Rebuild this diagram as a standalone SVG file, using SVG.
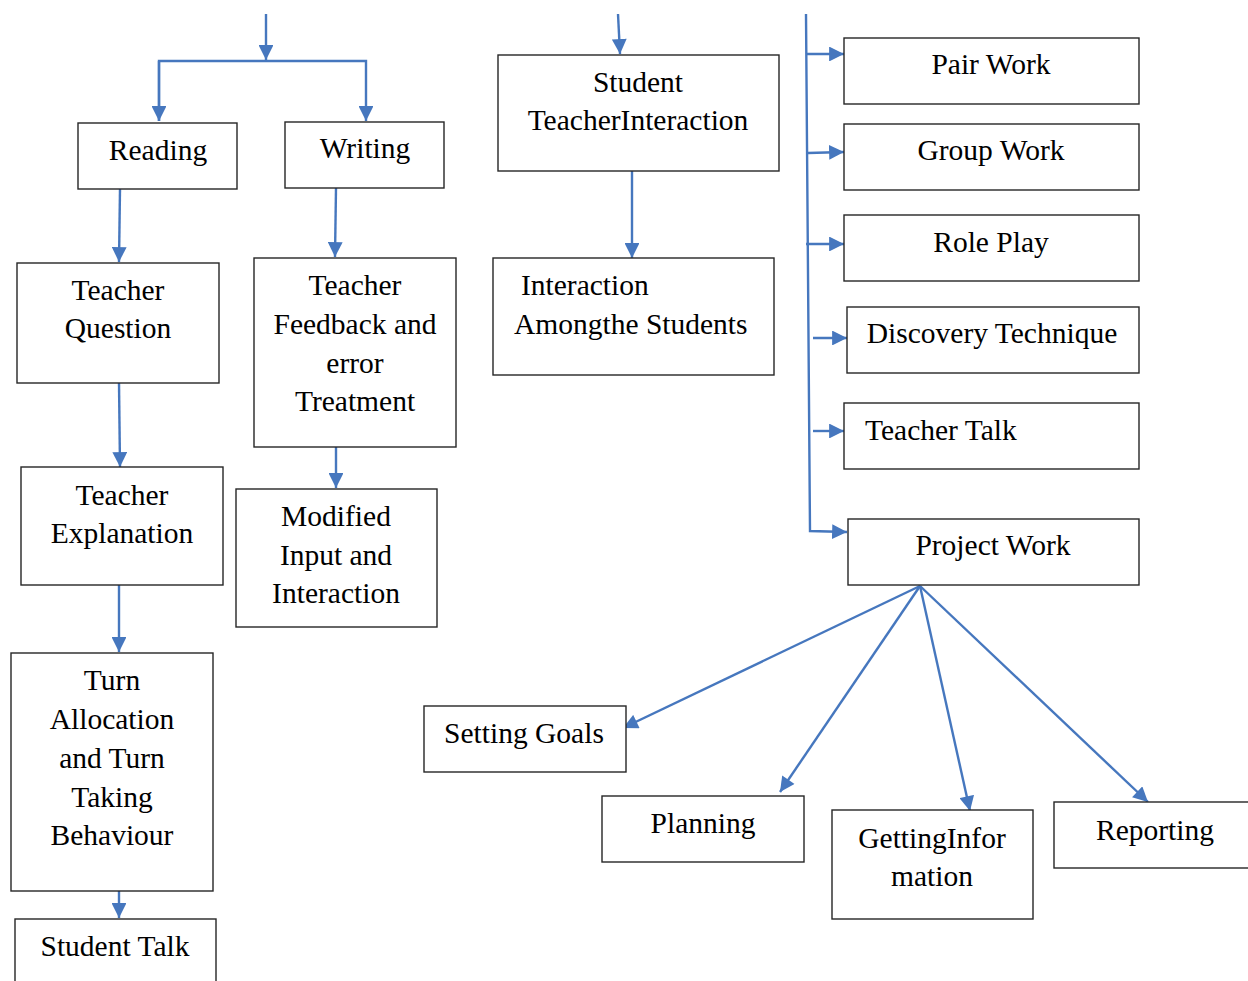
<svg xmlns="http://www.w3.org/2000/svg" width="1248" height="981" viewBox="0 0 1248 981">
<style>
.box{fill:#fff;stroke:#262626;stroke-width:1.4}
text{font-family:"Liberation Serif","Times New Roman",serif;font-size:29.5px;fill:#000}
.c{text-anchor:middle}
.con line,.con path{stroke:#4677BE;stroke-width:2.4;fill:none}
</style>
<defs>
<marker id="ah" viewBox="0 0 10 10" refX="10" refY="5" markerWidth="6.5" markerHeight="6.2" markerUnits="strokeWidth" orient="auto">
<path d="M0,0 L10,5 L0,10 z" fill="#4677BE"/>
</marker>
</defs>
<rect width="1248" height="981" fill="#fff"/>
<g class="con">
<line x1="266" y1="14" x2="266" y2="60" marker-end="url(#ah)"/>
<path d="M159,121 L159,61 L366,61 L366,121" marker-end="url(#ah)"/>
<line x1="159" y1="61" x2="159" y2="121" marker-end="url(#ah)"/>
<line x1="120" y1="189" x2="119" y2="262" marker-end="url(#ah)"/>
<line x1="119" y1="383" x2="120" y2="467" marker-end="url(#ah)"/>
<line x1="119" y1="585" x2="119" y2="652" marker-end="url(#ah)"/>
<line x1="119" y1="891" x2="119" y2="918" marker-end="url(#ah)"/>
<line x1="336" y1="188" x2="335" y2="257" marker-end="url(#ah)"/>
<line x1="336" y1="447" x2="336" y2="488" marker-end="url(#ah)"/>
<line x1="618" y1="14" x2="620" y2="54" marker-end="url(#ah)"/>
<line x1="632" y1="171" x2="632" y2="258" marker-end="url(#ah)"/>
<path d="M806,14 L810,531 L847,532" marker-end="url(#ah)"/>
<line x1="807" y1="54" x2="844" y2="54" marker-end="url(#ah)"/>
<line x1="808" y1="153" x2="844" y2="152" marker-end="url(#ah)"/>
<line x1="806" y1="244" x2="844" y2="244" marker-end="url(#ah)"/>
<line x1="813" y1="338" x2="847" y2="338" marker-end="url(#ah)"/>
<line x1="813" y1="431" x2="844" y2="431" marker-end="url(#ah)"/>
<line x1="920" y1="586" x2="623" y2="728" marker-end="url(#ah)"/>
<line x1="920" y1="586" x2="780" y2="792" marker-end="url(#ah)"/>
<line x1="920" y1="586" x2="970" y2="811" marker-end="url(#ah)"/>
<line x1="920" y1="586" x2="1148" y2="802" marker-end="url(#ah)"/>
</g>
<g id="reading"><rect class="box" x="78" y="123" width="159" height="66"/><text class="c" x="158" y="160">Reading</text></g>
<g id="writing"><rect class="box" x="285" y="122" width="159" height="66"/><text class="c" x="365" y="158">Writing</text></g>
<g id="teacher-question"><rect class="box" x="17" y="263" width="202" height="120"/><text class="c" x="118" y="300">Teacher</text><text class="c" x="118" y="338">Question</text></g>
<g id="teacher-feedback"><rect class="box" x="254" y="258" width="202" height="189"/><text class="c" x="355" y="295">Teacher</text><text class="c" x="355" y="334">Feedback and</text><text class="c" x="355" y="373">error</text><text class="c" x="355" y="411">Treatment</text></g>
<g id="teacher-explanation"><rect class="box" x="21" y="467" width="202" height="118"/><text class="c" x="122" y="505">Teacher</text><text class="c" x="122" y="543">Explanation</text></g>
<g id="modified-input"><rect class="box" x="236" y="489" width="201" height="138"/><text class="c" x="336" y="526">Modified</text><text class="c" x="336" y="565">Input and</text><text class="c" x="336" y="603">Interaction</text></g>
<g id="turn-allocation"><rect class="box" x="11" y="653" width="202" height="238"/><text class="c" x="112" y="690">Turn</text><text class="c" x="112" y="729">Allocation</text><text class="c" x="112" y="768">and Turn</text><text class="c" x="112" y="807">Taking</text><text class="c" x="112" y="845">Behaviour</text></g>
<g id="student-talk"><rect class="box" x="15" y="919" width="201" height="70"/><text class="c" x="115" y="956">Student Talk</text></g>
<g id="student-teacher-interaction"><rect class="box" x="498" y="55" width="281" height="116"/><text class="c" x="638" y="92">Student</text><text class="c" x="638" y="130">TeacherInteraction</text></g>
<g id="interaction-students"><rect class="box" x="493" y="258" width="281" height="117"/><text x="521" y="295">Interaction</text><text x="514" y="334">Amongthe Students</text></g>
<g id="pair-work"><rect class="box" x="844" y="38" width="295" height="66"/><text class="c" x="991" y="74">Pair Work</text></g>
<g id="group-work"><rect class="box" x="844" y="124" width="295" height="66"/><text class="c" x="991" y="160">Group Work</text></g>
<g id="role-play"><rect class="box" x="844" y="215" width="295" height="66"/><text class="c" x="991" y="252">Role Play</text></g>
<g id="discovery"><rect class="box" x="847" y="307" width="292" height="66"/><text class="c" x="992" y="343">Discovery Technique</text></g>
<g id="teacher-talk"><rect class="box" x="844" y="403" width="295" height="66"/><text x="865" y="440">Teacher Talk</text></g>
<g id="project-work"><rect class="box" x="848" y="519" width="291" height="66"/><text class="c" x="993" y="555">Project Work</text></g>
<g id="setting-goals"><rect class="box" x="424" y="706" width="202" height="66"/><text class="c" x="524" y="743">Setting Goals</text></g>
<g id="planning"><rect class="box" x="602" y="796" width="202" height="66"/><text class="c" x="703" y="833">Planning</text></g>
<g id="getting-information"><rect class="box" x="832" y="810" width="201" height="109"/><text class="c" x="932" y="848">GettingInfor</text><text class="c" x="932" y="886">mation</text></g>
<g id="reporting"><rect class="box" x="1054" y="802" width="200" height="66"/><text class="c" x="1155" y="840">Reporting</text></g>
</svg>
